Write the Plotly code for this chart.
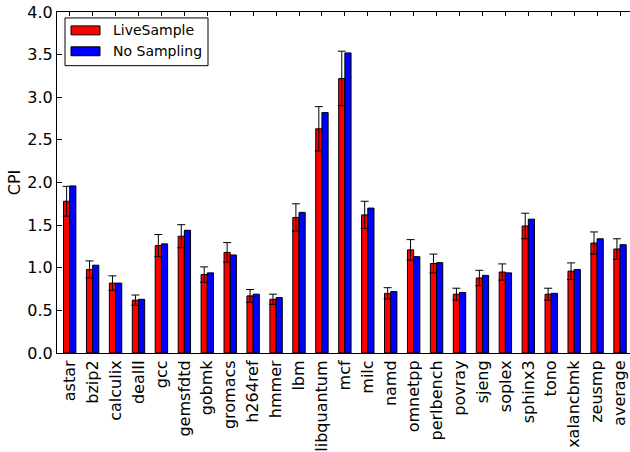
import plotly.graph_objects as go

# Benchmarks and measured cycles-per-instruction
benchmarks = ["astar", "bzip2", "calculix", "dealII", "gcc", "gemsfdtd", "gobmk",
              "gromacs", "h264ref", "hmmer", "lbm", "libquantum", "mcf", "milc",
              "namd", "omnetpp", "perlbench", "povray", "sjeng", "soplex",
              "sphinx3", "tono", "xalancbmk", "zeusmp", "average"]

livesample_cpi = [1.78, 0.98, 0.82, 0.62, 1.26, 1.37, 0.92, 1.18, 0.67, 0.63, 1.59,
                  2.63, 3.22, 1.62, 0.70, 1.21, 1.05, 0.69, 0.88, 0.95, 1.49, 0.69,
                  0.96, 1.29, 1.22]
livesample_err = [0.175, 0.10, 0.085, 0.06, 0.13, 0.135, 0.09, 0.115, 0.075, 0.06, 0.16,
                  0.26, 0.32, 0.16, 0.066, 0.12, 0.11, 0.07, 0.09, 0.095, 0.15, 0.07,
                  0.097, 0.13, 0.12]
nosampling_cpi = [1.96, 1.03, 0.82, 0.63, 1.28, 1.44, 0.94, 1.15, 0.69, 0.65, 1.65,
                  2.82, 3.52, 1.70, 0.72, 1.13, 1.06, 0.71, 0.91, 0.94, 1.57, 0.70,
                  0.98, 1.34, 1.27]

series_names = ["LiveSample", "No Sampling"]
series_colors = ["#ff0000", "#0000ff"]
y_ticks = [0.0, 0.5, 1.0, 1.5, 2.0, 2.5, 3.0, 3.5, 4.0]

FONT = "DejaVu Sans"
W, H = 630, 452
ML, MR, MT, MB = 57, 0, 12, 97
PW, PH = W - ML - MR, H - MT - MB

fig = go.Figure()
fig.add_trace(go.Bar(
    x=benchmarks, y=livesample_cpi, name=series_names[0],
    marker=dict(color=series_colors[0], line=dict(color="black", width=1)),
    error_y=dict(type="data", array=livesample_err, visible=True,
                 color="black", thickness=1, width=4),
))
fig.add_trace(go.Bar(
    x=benchmarks, y=nosampling_cpi, name=series_names[1],
    marker=dict(color=series_colors[1], line=dict(color="black", width=1)),
))

# hand-built legend box in the upper-left corner (pixel -> paper helpers)
def px(xp):
    return (xp - ML) / PW

def py(yp):
    return (H - MB - yp) / PH

shapes = [dict(type="rect", xref="paper", yref="paper",
               x0=px(65), x1=px(208), y0=py(66), y1=py(18),
               line=dict(color="black", width=1), fillcolor="white")]
annotations = []
for i, (name, col) in enumerate(zip(series_names, series_colors)):
    top = 26 + i * 21
    shapes.append(dict(type="rect", xref="paper", yref="paper",
                       x0=px(71), x1=px(100), y0=py(top + 9), y1=py(top),
                       line=dict(color="black", width=1), fillcolor=col))
    annotations.append(dict(xref="paper", yref="paper", x=px(111), y=py(top + 4.5),
                            text=name, showarrow=False, xanchor="left",
                            yanchor="middle",
                            font=dict(family=FONT, size=14, color="black")))

fig.update_layout(
    width=W, height=H,
    margin=dict(l=ML, r=MR, t=MT, b=MB),
    paper_bgcolor="white", plot_bgcolor="white",
    barmode="group", bargap=0.46, bargroupgap=0,
    showlegend=False,
    shapes=shapes, annotations=annotations,
    font=dict(family=FONT, size=16, color="black"),
)
fig.update_xaxes(
    type="category", range=[-0.554, 24.435],
    showgrid=False, zeroline=False,
    showline=True, linecolor="black", linewidth=1, mirror="ticks",
    ticks="inside", ticklen=4, tickcolor="black", tickwidth=1,
    tickangle=-90, tickfont=dict(family=FONT, size=16, color="black"),
)
fig.update_yaxes(
    range=[0, 4], tickvals=y_ticks, tickformat=".1f",
    showgrid=False, zeroline=False,
    showline=True, linecolor="black", linewidth=1, mirror=False,
    ticks="inside", ticklen=5, tickcolor="black", tickwidth=1,
    tickfont=dict(family=FONT, size=16, color="black"),
    title=dict(text="CPI", font=dict(family=FONT, size=16, color="black"), standoff=2),
)

fig.write_html("out.html")
